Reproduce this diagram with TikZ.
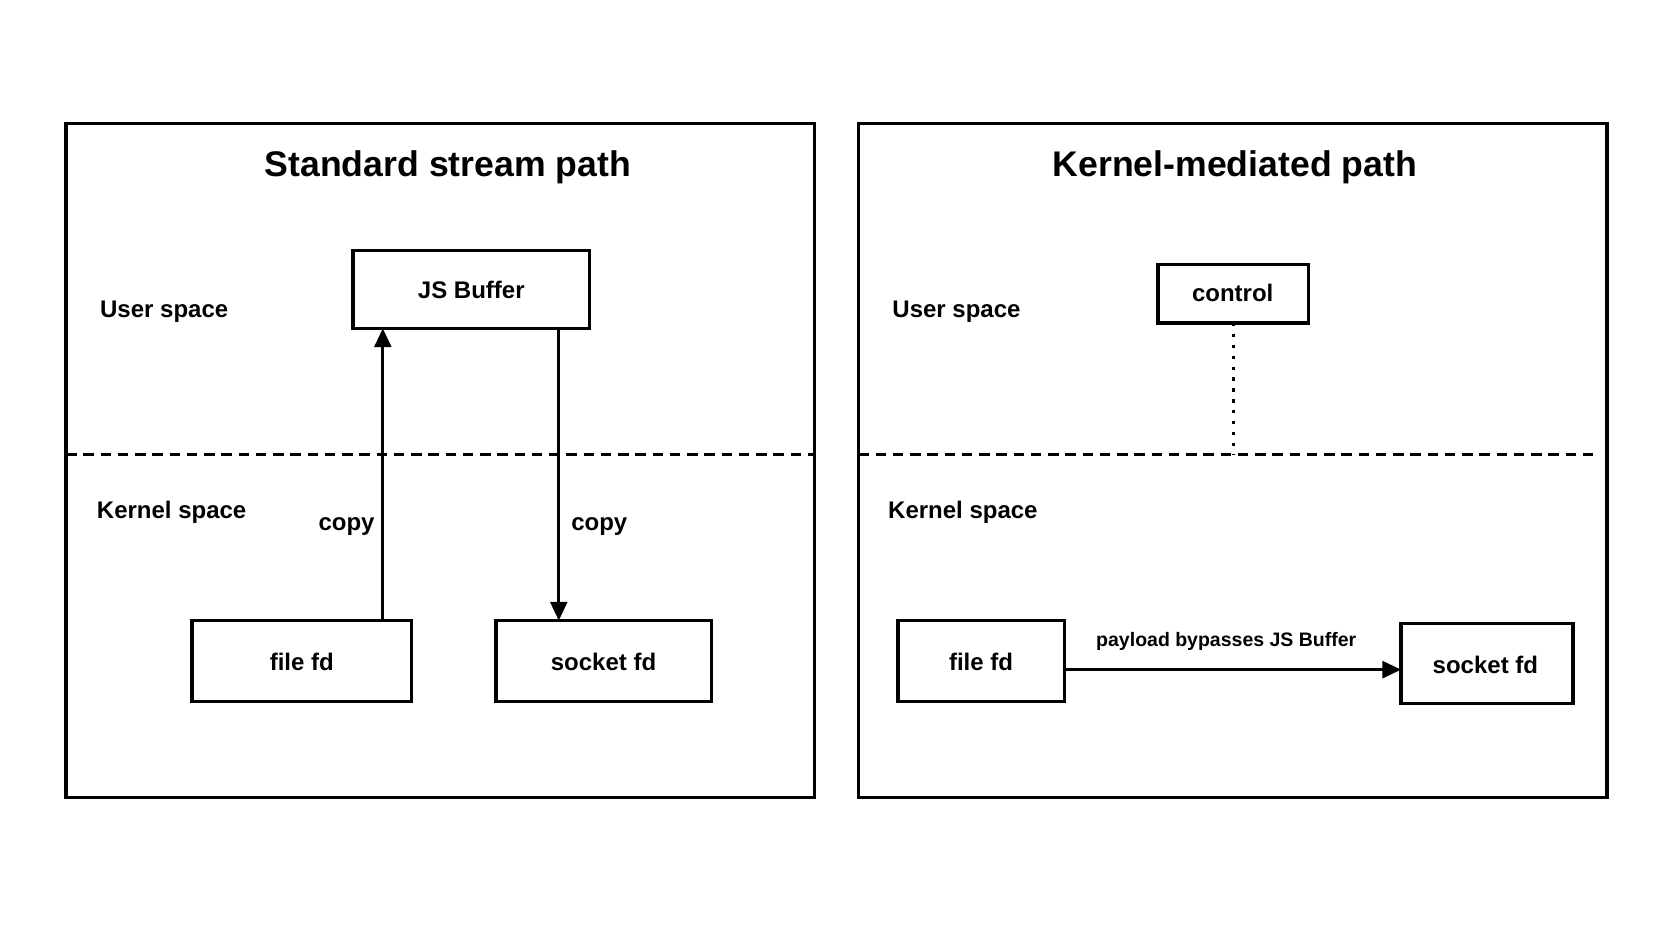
\documentclass[tikz,border=0pt]{standalone}
\usepackage{fontspec}
\setmainfont{Liberation Sans}
\usetikzlibrary{arrows.meta}
\begin{document}
\begin{tikzpicture}[x=0.01cm,y=-0.01cm,line width=0.8pt,
  panel/.style={draw,line width=0.9pt},
  bx/.style={font=\bfseries\fontsize{6.4}{8}\selectfont},
  lab/.style={font=\bfseries\fontsize{6.4}{8}\selectfont},
  ttl/.style={font=\bfseries\fontsize{9.5}{12}\selectfont},
  sep/.style={dashed,dash pattern=on 2.8pt off 1.8pt,line width=0.9pt},
  arr/.style={-{Triangle[length=5pt,width=4.5pt]}}]
\useasboundingbox (0,0) rectangle (1568,882);
\fill[white] (0,0) rectangle (1568,882);
% left panel
\draw[panel] (62,116) rectangle (764,748);
\node[ttl] (t1) at (420,157) {Standard stream path};
\draw[sep] (62,426) -- (764,426);
\node[lab] (u1) at (154,292) {User space};
\node[lab] (k1) at (161,480) {Kernel space};
\draw[line width=0.9pt] (331,235) rectangle (553,308);
\node[bx] (js) at (442,272) {JS Buffer};
\coordinate (jsU) at (359,308); \coordinate (jsD) at (524,308);
\draw[line width=0.9pt] (180,582) rectangle (386,658);
\node[bx] (ff1) at (283,621) {file fd};
\draw[line width=0.9pt] (465,582) rectangle (667,658);
\node[bx] (sf1) at (566,621) {socket fd};
\coordinate (ffU) at (359,582); \coordinate (sfU) at (524,582);
\draw[arr] (ffU) -- (jsU);
\draw[arr] (jsD) -- (sfU);
\node[lab] (c1) at (325,494) {copy};
\node[lab] (c2) at (562,494) {copy};
% right panel
\draw[panel] (805,116) rectangle (1507,748);
\node[ttl] (t2) at (1158,157) {Kernel-mediated path};
\draw[sep] (805,426) -- (1500,426);
\node[lab] (u2) at (897,292) {User space};
\node[lab] (k2) at (903,480) {Kernel space};
\draw[line width=0.9pt] (1086,248) rectangle (1227,303);
\node[bx] (ctl) at (1156,275) {control};
\coordinate (cB) at (1157,303); \coordinate (cL) at (1157,426);
\draw[dotted,line width=0.9pt] (cB) -- (cL);
\draw[line width=0.9pt] (842,582) rectangle (998,658);
\node[bx] (ff2) at (920,621) {file fd};
\draw[line width=0.9pt] (1314,585) rectangle (1475,660);
\node[bx] (sf2) at (1393,624) {socket fd};
\coordinate (a1) at (998,628); \coordinate (a2) at (1314,628);
\draw[arr] (a1) -- (a2);
\node[font=\bfseries\fontsize{5.2}{7}\selectfont] (pl) at (1150,602) {payload bypasses JS Buffer};
\end{tikzpicture}
\end{document}
